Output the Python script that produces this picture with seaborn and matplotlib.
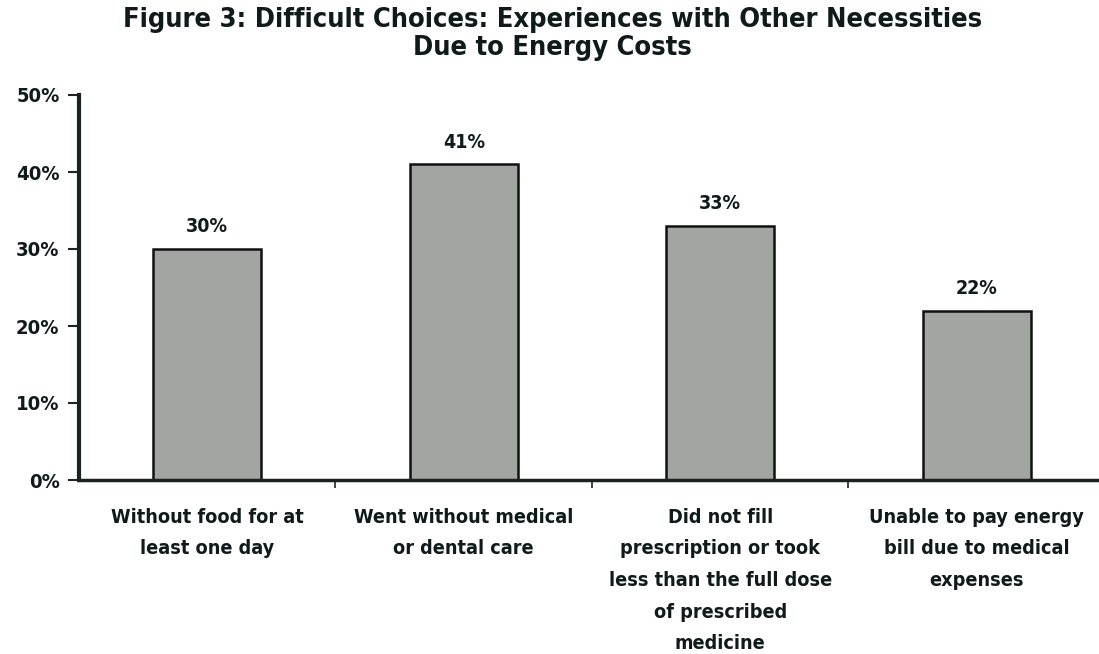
import matplotlib
matplotlib.use("Agg")
import matplotlib.pyplot as plt
import seaborn as sns
import pandas as pd

categories = [
    "Without food for at\nleast one day",
    "Went without medical\nor dental care",
    "Did not fill\nprescription or took\nless than the full dose\nof prescribed\nmedicine",
    "Unable to pay energy\nbill due to medical\nexpenses",
]
values = [30, 41, 33, 22]
yticks = [0, 10, 20, 30, 40, 50]
ytick_labels = ["0%", "10%", "20%", "30%", "40%", "50%"]
title = "Figure 3: Difficult Choices: Experiences with Other Necessities\nDue to Energy Costs"

sns.set_theme(style="white")
plt.rcParams["font.family"] = ["DejaVu Sans"]

FONT = dict(family="DejaVu Sans", fontstretch="condensed", fontweight="heavy", color="#111a1a")

fig = plt.figure(figsize=(10.99, 6.54), dpi=100)
ax = fig.add_axes([79 / 1099, 174 / 654, 1020 / 1099, 385 / 654])

df = pd.DataFrame({"cat": categories, "val": values})
sns.barplot(data=df, x="cat", y="val", color="#a3a5a3", saturation=1,
            edgecolor="#111111", linewidth=1.8, width=0.42, ax=ax)

ax.set_xlim(-0.5, 3.477)
ax.set_ylim(0, 50)
ax.set_xlabel("")
ax.set_ylabel("")

for c in ax.containers:
    ax.bar_label(c, labels=[f"{v}%" for v in values], padding=9, fontsize=14, **FONT)

ax.set_yticks(yticks)
ax.set_yticklabels(ytick_labels, fontsize=14.5, **FONT)
ax.set_xticks(range(len(categories)))
ax.set_xticklabels(categories, fontsize=14.2, linespacing=1.84, **FONT)
ax.tick_params(axis="x", which="major", length=0, pad=20)
ax.set_xticks([0.5, 1.5, 2.5], minor=True)
ax.tick_params(axis="x", which="minor", length=6, width=1.2, direction="out", color="#222222", bottom=True)
ax.tick_params(axis="y", length=8, width=1.5, direction="out", color="#222222", left=True, pad=6)

for s in ["top", "right"]:
    ax.spines[s].set_visible(False)
ax.spines["left"].set_linewidth(3)
ax.spines["left"].set_color("#1a2222")
ax.spines["bottom"].set_linewidth(2.5)
ax.spines["bottom"].set_color("#1a2222")

fig.text(0.503, 0.989, title, ha="center", va="top", fontsize=19.5, linespacing=1.07, **FONT)

fig.savefig("out.png", dpi=100, facecolor="white")
